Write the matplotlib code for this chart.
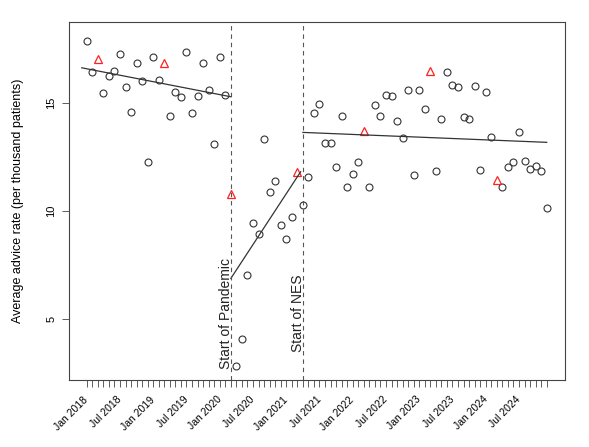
import matplotlib
matplotlib.use("Agg")
import matplotlib.pyplot as plt
import numpy as np

plt.rcParams['font.family'] = ['Liberation Sans', 'DejaVu Sans']

# Data: monthly average advice rate, Jan 2018 - Dec 2024
rate = [17.88, 16.44, 17.02, 15.45, 16.25, 16.48, 17.28, 15.73, 14.60, 16.84,
        16.02, 12.28, 17.14, 16.05, 16.84, 14.41, 15.51, 15.26, 17.35, 14.52,
        15.32, 16.84, 15.60, 13.10, 17.13, 15.38, 10.77, 2.82, 4.09, 7.05,
        9.46, 8.95, 13.32, 10.89, 11.40, 9.34, 8.70, 9.72, 11.79, 10.30,
        11.56, 14.54, 14.94, 13.13, 13.13, 12.04, 14.38, 11.13, 11.71, 12.28,
        13.69, 11.13, 14.91, 14.38, 15.36, 15.32, 14.15, 13.39, 15.60, 11.67,
        15.60, 14.72, 16.50, 11.84, 14.26, 16.42, 15.85, 15.73, 14.37, 14.26,
        15.77, 11.90, 15.51, 13.44, 11.44, 11.11, 12.02, 12.27, 13.66, 12.31,
        11.94, 12.08, 11.85, 10.12]
month = np.arange(len(rate))
is_march = (month % 12) == 2

tick_labels = ['Jan 2018', 'Jul 2018', 'Jan 2019', 'Jul 2019', 'Jan 2020',
               'Jul 2020', 'Jan 2021', 'Jul 2021', 'Jan 2022', 'Jul 2022',
               'Jan 2023', 'Jul 2023', 'Jan 2024', 'Jul 2024']

# fitted segments (start/end month, start/end value)
seg_x = [(-0.9, 26), (26, 38.6), (39, 83)]
seg_y = [(16.63, 15.29), (6.88, 11.82), (13.64, 13.18)]

events = [(26, 'Start of Pandemic'), (39, 'Start of NES')]
#!#

fig = plt.figure(figsize=(5.89, 4.47), dpi=100)
ax = fig.add_axes([69/589, 1 - 380/447, (565 - 69)/589, (380 - 22)/447])

r = np.array(rate)
ax.plot(month[~is_march], r[~is_march], 'o', mfc='none', mec='#333333',
        ms=5, mew=0.8)
ax.plot(month[is_march], r[is_march], '^', mfc='none', mec='#ff2020',
        ms=5.5, mew=0.9)

for sx, sy in zip(seg_x, seg_y):
    ax.plot(sx, sy, color='#333333', lw=0.9)

for x, name in events:
    ax.axvline(x, color='#555555', lw=0.8, dashes=(4, 3.5))
    ax.text(x - 0.15, 5.25, name, rotation=90, ha='center', va='baseline',
            rotation_mode='anchor', fontsize=10, color='#222222')

ax.set_xlim(-3.2, 86.3)
ax.set_ylim(2.18, 18.75)

ax.set_xticks(month)
ax.set_xticklabels([tick_labels[i // 6] if i % 6 == 0 else '' for i in month])
for lbl in ax.get_xticklabels():
    lbl.set_rotation(45)
    lbl.set_ha('right')
    lbl.set_va('center')
    lbl.set_rotation_mode('anchor')
ax.set_yticks([5, 10, 15])
ax.set_yticklabels(['5', '10', '15'], rotation=90, va='center')

ax.tick_params(axis='x', length=5, width=0.6, color='#444444', pad=8,
               labelsize=7.5)
ax.tick_params(axis='y', length=5, width=0.6, color='#444444', pad=4,
               labelsize=8)
for s in ax.spines.values():
    s.set_color('#444444')
    s.set_linewidth(0.8)

ax.set_ylabel('Average advice rate (per thousand patients)', fontsize=9,
              labelpad=16)

fig.savefig('out.png', dpi=100)
